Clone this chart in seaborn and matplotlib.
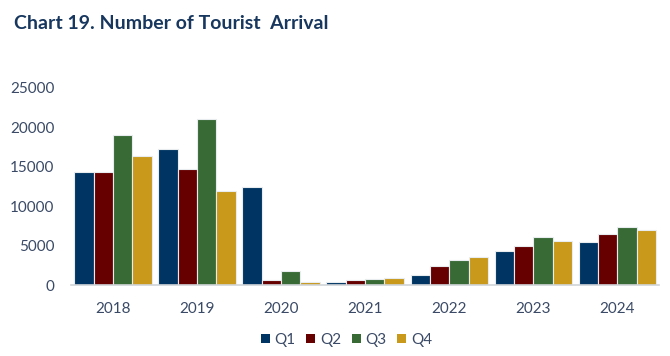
import matplotlib
matplotlib.use("Agg")
import matplotlib.pyplot as plt
import seaborn as sns
import pandas as pd
from matplotlib.patches import Patch

years = ["2018", "2019", "2020", "2021", "2022", "2023", "2024"]
quarters = ["Q1", "Q2", "Q3", "Q4"]
q1 = [14300, 17200, 12400, 460, 1270, 4300, 5400]
q2 = [14300, 14700, 670, 670, 2400, 4950, 6500]
q3 = [19000, 21000, 1800, 800, 3200, 6100, 7400]
q4 = [16400, 11950, 460, 930, 3600, 5550, 7000]
colors = ["#003463", "#660000", "#386A35", "#C8991A"]

rows = []
for q, vals in zip(quarters, [q1, q2, q3, q4]):
    for y, v in zip(years, vals):
        rows.append({"Year": y, "Quarter": q, "Value": v})
df = pd.DataFrame(rows)

sns.set_style("white")
plt.rcParams["font.family"] = ["Lato", "DejaVu Sans"]

fig = plt.figure(figsize=(6.7, 3.56), dpi=100)
ax = fig.add_axes([0.106, 0.199, 0.878, 0.555])
sns.barplot(data=df, x="Year", y="Value", hue="Quarter", order=years,
            hue_order=quarters, palette=colors, saturation=1, width=0.92, ax=ax,
            edgecolor="#E8ECEF", linewidth=0.8, legend=False)
ax.set_ylim(0, 25000)
ax.set_xlim(-0.5, 6.5)
ax.set_yticks([0, 5000, 10000, 15000, 20000, 25000])
ax.set_yticklabels(["0", "5000", "10000", "15000", "20000", "25000"])
ax.set_xlabel("")
ax.set_ylabel("")
for s in ["top", "right", "left"]:
    ax.spines[s].set_visible(False)
ax.spines["bottom"].set_color("#D0D4D8")
ax.spines["bottom"].set_linewidth(1.2)
tc = "#3A4A66"
ax.tick_params(axis="both", length=0, colors=tc, labelsize=11)
ax.tick_params(axis="y", pad=12)
ax.tick_params(axis="x", pad=12)

handles = [Patch(facecolor=c, edgecolor="none", label=q) for c, q in zip(colors, quarters)]
leg = fig.legend(handles=handles, loc="center", bbox_to_anchor=(0.517, 0.045), ncol=4,
                 frameon=False, fontsize=11, handlelength=0.6, handleheight=0.6,
                 handletextpad=0.3, columnspacing=0.7, labelcolor=tc)

fig.text(0.021, 0.935, "Chart 19. Number of Tourist  Arrival", fontsize=14,
         fontweight="bold", color="#17375E", ha="left", va="center")

fig.savefig("out.png", dpi=100, facecolor="white")
